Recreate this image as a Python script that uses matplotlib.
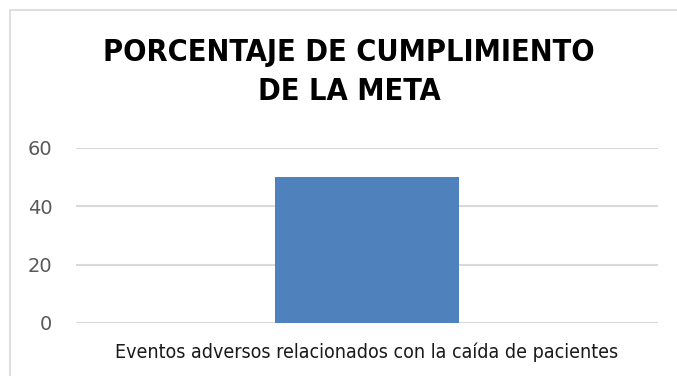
import matplotlib
matplotlib.use('Agg')
import matplotlib.pyplot as plt
from matplotlib.patches import Rectangle

# data
categorias = ['Eventos adversos relacionados con la caída de pacientes']
porcentaje = [50]
yticks = [0, 20, 40, 60]

fig = plt.figure(figsize=(6.77, 3.76), dpi=100)
# chart frame
fig.patches.append(Rectangle((10 / 677, -0.1), 1.2, 1 - 10 / 376 + 0.1,
                             transform=fig.transFigure, fill=False,
                             edgecolor='#d9d9d9', linewidth=1.2))

ax = fig.add_axes([76 / 677, 53 / 376, 582 / 677, 175 / 376])
ax.bar([0], porcentaje, width=0.63, color='#4f81bd', zorder=3)
ax.set_xlim(-1, 1)
ax.set_ylim(0, 60)
ax.set_yticks(yticks)
ax.set_xticks([0])
ax.set_xticklabels(categorias, fontsize=14, family='DejaVu Sans', stretch='condensed',
                   color='#1a1a1a')
ax.tick_params(axis='y', length=0, pad=17, labelsize=14, labelcolor='#595959')
ax.tick_params(axis='x', length=0, pad=14)
ax.grid(axis='y', color='#d9d9d9', linewidth=1.5, zorder=0)
for s in ax.spines.values():
    s.set_visible(False)

fig.text(349 / 677, 1 - 72 / 376, 'PORCENTAJE DE CUMPLIMIENTO\nDE LA META', ha='center', va='center',
         fontsize=22, fontweight='bold', linespacing=1.45,
         family='DejaVu Sans', stretch='condensed')

fig.savefig('out.png', dpi=100)
